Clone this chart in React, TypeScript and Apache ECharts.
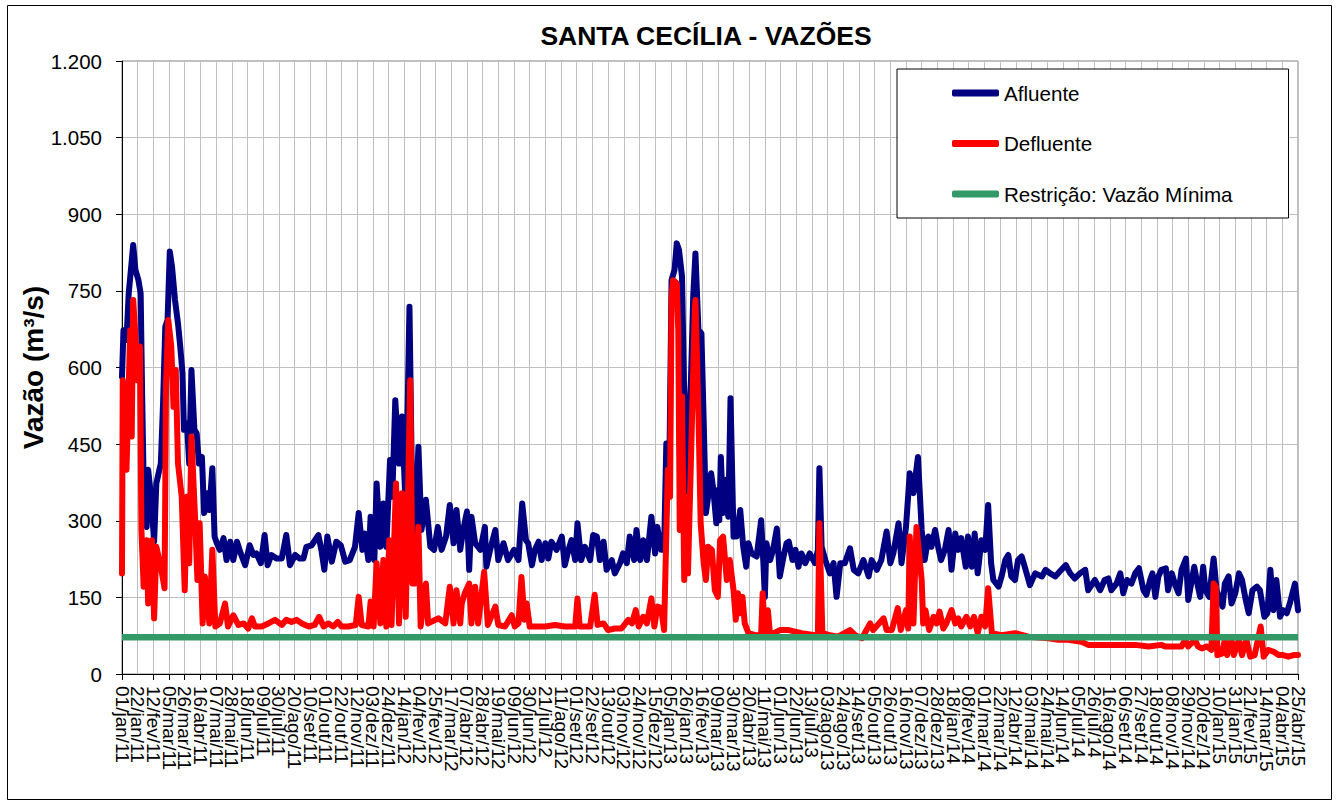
import { useEffect, useRef } from "react";
import * as echarts from "echarts";

const tickLabels: string[] = [
  "01/jan/11", "22/jan/11", "12/fev/11", "05/mar/11", "26/mar/11", "16/abr/11", "07/mai/11", "28/mai/11", "18/jun/11",
  "09/jul/11", "30/jul/11", "20/ago/11", "10/set/11", "01/out/11", "22/out/11", "12/nov/11", "03/dez/11", "24/dez/11",
  "14/jan/12", "04/fev/12", "25/fev/12", "17/mar/12", "07/abr/12", "28/abr/12", "19/mai/12", "09/jun/12", "30/jun/12",
  "21/jul/12", "11/ago/12", "01/set/12", "22/set/12", "13/out/12", "03/nov/12", "24/nov/12", "15/dez/12",
  "05/jan/13", "26/jan/13", "16/fev/13", "09/mar/13", "30/mar/13", "20/abr/13", "11/mai/13", "01/jun/13", "22/jun/13",
  "13/jul/13", "03/ago/13", "24/ago/13", "14/set/13", "05/out/13", "26/out/13", "16/nov/13", "07/dez/13", "28/dez/13",
  "18/jan/14", "08/fev/14", "01/mar/14", "22/mar/14", "12/abr/14", "03/mai/14", "24/mai/14", "14/jun/14", "05/jul/14",
  "26/jul/14", "16/ago/14", "06/set/14", "27/set/14", "18/out/14", "08/nov/14", "29/nov/14", "20/dez/14",
  "10/jan/15", "31/jan/15", "21/fev/15", "14/mar/15", "04/abr/15", "25/abr/15",
];

// [dia desde 01/jan/11, vazão m³/s]
const afluente: [number, number][] = [
  [0, 582], [2, 673], [6, 654], [9, 745], [15, 840], [18, 791], [22, 771], [25, 745], [27, 543], [30, 295], [33, 288],
  [35, 400], [39, 347], [43, 259], [46, 373], [49, 393], [52, 412], [55, 530], [58, 680], [61, 693], [64, 827], [67, 797],
  [71, 732], [75, 686], [78, 641], [81, 589], [83, 478], [87, 491], [90, 412], [93, 595], [97, 478], [100, 471], [103, 412],
  [107, 425], [110, 315], [114, 354], [117, 321], [121, 403], [124, 269], [127, 256], [131, 243], [136, 266], [140, 223],
  [145, 259], [149, 223], [154, 259], [159, 236], [165, 213], [171, 252], [176, 233], [180, 236], [186, 217], [191, 272],
  [195, 213], [200, 233], [207, 226], [214, 226], [220, 272], [225, 213], [232, 233], [238, 226], [243, 226], [247, 249],
  [254, 252], [263, 272], [267, 243], [271, 204], [275, 269], [281, 220], [287, 259], [293, 252], [299, 220], [305, 223],
  [312, 249], [317, 315], [322, 243], [325, 275], [330, 223], [333, 308], [338, 223], [341, 373], [346, 249], [350, 334],
  [354, 249], [359, 419], [362, 347], [366, 536], [371, 412], [375, 504], [379, 360], [382, 478], [385, 719], [389, 301],
  [392, 249], [397, 445], [401, 282], [407, 341], [413, 249], [418, 243], [423, 288], [428, 243], [434, 269], [439, 331],
  [444, 256], [448, 321], [453, 243], [457, 282], [462, 318], [465, 204], [468, 308], [473, 256], [480, 243], [486, 288],
  [488, 210], [493, 243], [500, 282], [504, 223], [511, 256], [517, 223], [525, 243], [531, 223], [536, 334], [541, 262],
  [544, 256], [549, 213], [553, 243], [558, 259], [562, 223], [567, 256], [571, 226], [575, 259], [582, 243], [589, 269],
  [593, 213], [598, 243], [602, 262], [607, 223], [610, 295], [615, 223], [620, 249], [627, 223], [631, 272], [636, 269],
  [640, 223], [645, 259], [649, 204], [656, 223], [660, 197], [667, 217], [671, 236], [676, 217], [680, 269], [686, 223],
  [689, 282], [694, 223], [698, 262], [703, 223], [709, 308], [714, 236], [717, 288], [722, 243], [726, 243], [729, 451],
  [733, 400], [736, 771], [740, 791], [743, 843], [746, 830], [750, 778], [753, 543], [756, 347], [758, 458], [762, 575],
  [765, 739], [768, 823], [772, 673], [776, 667], [779, 497], [782, 315], [785, 347], [789, 393], [792, 360], [796, 295],
  [798, 360], [800, 301], [802, 425], [805, 315], [809, 380], [812, 308], [815, 540], [819, 269], [823, 269], [828, 321],
  [832, 249], [836, 210], [839, 256], [843, 236], [850, 230], [856, 301], [859, 217], [861, 151], [863, 256], [868, 223],
  [872, 243], [877, 285], [881, 191], [886, 230], [890, 256], [893, 259], [898, 223], [902, 243], [906, 210], [910, 236],
  [915, 217], [921, 236], [928, 217], [932, 243], [934, 403], [937, 249], [942, 223], [948, 197], [953, 217], [957, 151],
  [962, 217], [968, 217], [975, 246], [980, 204], [986, 197], [993, 223], [1000, 191], [1004, 223], [1011, 204],
  [1017, 223], [1024, 279], [1029, 217], [1033, 236], [1040, 295], [1044, 217], [1050, 288], [1055, 393], [1060, 354],
  [1066, 425], [1071, 282], [1075, 223], [1080, 269], [1084, 249], [1089, 282], [1093, 249], [1097, 223], [1102, 243],
  [1107, 282], [1111, 204], [1116, 275], [1120, 243], [1124, 266], [1130, 210], [1133, 269], [1138, 210], [1142, 275],
  [1146, 197], [1151, 262], [1156, 243], [1160, 331], [1164, 217], [1167, 184], [1174, 171], [1178, 191], [1183, 223],
  [1187, 233], [1191, 191], [1196, 184], [1200, 223], [1205, 230], [1209, 210], [1216, 174], [1223, 197], [1232, 191],
  [1237, 204], [1243, 197], [1250, 191], [1258, 204], [1264, 213], [1270, 197], [1276, 187], [1283, 197], [1290, 204],
  [1294, 164], [1303, 184], [1310, 164], [1316, 184], [1321, 187], [1325, 164], [1332, 177], [1337, 197], [1341, 158],
  [1346, 184], [1352, 177], [1357, 197], [1362, 207], [1368, 164], [1372, 155], [1377, 184], [1380, 197], [1384, 151],
  [1388, 191], [1392, 204], [1398, 207], [1401, 164], [1406, 197], [1410, 177], [1415, 158], [1419, 204], [1425, 226],
  [1428, 145], [1432, 177], [1436, 210], [1441, 171], [1444, 151], [1448, 210], [1451, 164], [1456, 151], [1462, 226],
  [1466, 164], [1471, 145], [1474, 132], [1477, 177], [1482, 191], [1486, 138], [1491, 158], [1496, 197], [1500, 184],
  [1505, 145], [1509, 119], [1514, 164], [1520, 171], [1524, 164], [1530, 112], [1534, 119], [1538, 204], [1542, 125],
  [1546, 184], [1551, 112], [1555, 125], [1560, 119], [1564, 138], [1571, 177], [1575, 125],
];

const defluente: [number, number][] = [
  [0, 197], [1, 575], [6, 400], [11, 673], [13, 465], [15, 732], [18, 660], [21, 575], [24, 641], [26, 282], [29, 171],
  [33, 262], [35, 138], [40, 262], [43, 109], [46, 249], [52, 210], [57, 168], [59, 569], [62, 693], [66, 641], [69, 523],
  [72, 595], [75, 412], [80, 347], [84, 164], [87, 347], [90, 217], [93, 465], [98, 301], [101, 184], [104, 295], [108, 99],
  [111, 191], [117, 99], [121, 243], [125, 93], [131, 99], [138, 138], [142, 93], [149, 115], [156, 96], [163, 99],
  [169, 89], [174, 109], [178, 93], [187, 93], [196, 99], [205, 106], [214, 96], [220, 106], [227, 102], [234, 106],
  [241, 99], [250, 93], [258, 96], [264, 112], [270, 93], [276, 99], [283, 93], [289, 102], [294, 93], [303, 93], [313, 96],
  [317, 151], [321, 96], [330, 93], [333, 142], [337, 93], [341, 217], [346, 99], [350, 223], [354, 93], [358, 262],
  [361, 96], [367, 373], [371, 99], [375, 354], [380, 112], [386, 575], [389, 177], [392, 177], [397, 288], [400, 93],
  [407, 177], [410, 99], [424, 109], [433, 99], [439, 171], [444, 99], [448, 164], [453, 99], [455, 138], [459, 158],
  [465, 177], [468, 99], [473, 171], [477, 99], [485, 200], [490, 96], [500, 132], [504, 96], [513, 93], [522, 115],
  [526, 93], [531, 99], [535, 190], [539, 106], [542, 138], [546, 93], [567, 93], [580, 96], [593, 93], [607, 93],
  [610, 148], [613, 93], [627, 93], [633, 155], [637, 96], [645, 99], [651, 86], [660, 89], [669, 89], [678, 106],
  [683, 99], [688, 125], [692, 93], [698, 112], [703, 99], [709, 148], [713, 93], [717, 132], [722, 129], [726, 86],
  [731, 400], [734, 347], [736, 739], [738, 771], [743, 765], [745, 673], [747, 282], [750, 543], [753, 184], [756, 347],
  [758, 197], [763, 477], [767, 706], [768, 732], [772, 510], [775, 295], [779, 217], [782, 184], [785, 249], [790, 243],
  [794, 164], [798, 151], [801, 262], [805, 269], [810, 184], [814, 223], [819, 164], [822, 106], [825, 158], [828, 119],
  [831, 151], [834, 99], [839, 80], [848, 76], [856, 76], [858, 158], [861, 80], [865, 125], [868, 76], [881, 86],
  [893, 86], [910, 80], [928, 76], [932, 76], [934, 295], [938, 80], [948, 76], [959, 73], [975, 86], [982, 76], [991, 70],
  [1002, 99], [1006, 86], [1020, 109], [1024, 86], [1031, 86], [1039, 129], [1043, 86], [1050, 125], [1053, 89],
  [1055, 269], [1060, 99], [1064, 288], [1071, 184], [1073, 99], [1076, 125], [1081, 86], [1087, 112], [1091, 99],
  [1095, 122], [1100, 89], [1104, 99], [1111, 125], [1116, 99], [1120, 109], [1124, 93], [1131, 112], [1136, 93],
  [1141, 112], [1146, 80], [1151, 112], [1156, 93], [1160, 168], [1165, 80], [1178, 76], [1196, 80], [1214, 73],
  [1241, 70], [1254, 67], [1267, 67], [1285, 63], [1294, 57], [1308, 57], [1321, 57], [1335, 57], [1343, 57], [1357, 57],
  [1375, 54], [1392, 57], [1397, 54], [1419, 54], [1424, 67], [1428, 54], [1437, 67], [1441, 54], [1446, 50], [1453, 54],
  [1459, 47], [1462, 177], [1465, 171], [1467, 37], [1473, 40], [1477, 67], [1480, 37], [1486, 67], [1489, 37], [1496, 67],
  [1500, 37], [1506, 67], [1511, 34], [1517, 37], [1525, 93], [1529, 34], [1535, 47], [1542, 44], [1549, 37], [1555, 37],
  [1562, 34], [1569, 37], [1575, 37],
];

const restricao: [number, number][] = [
  [0, 72],
  [1575, 72],
];

// labels that ECharts' min/max overlap rule drops from the main axis; drawn by a twin axis
const twinLabelIndexes: number[] = [1, 74];

const FONT = '"Liberation Sans", Arial, Helvetica, sans-serif';

function fmtY(v: number): string {
  if (v >= 1000) {
    const t = Math.floor(v / 1000);
    const r = String(v % 1000).padStart(3, "0");
    return `${t}.${r}`;
  }
  return String(v);
}

const xLabelStyle = {
  rotate: -90,
  margin: 12,
  fontSize: 19,
  fontFamily: FONT,
  color: "#000",
  hideOverlap: false,
};

export default function App() {
  const ref = useRef<HTMLDivElement>(null);
  useEffect(() => {
    document.body.style.margin = "0";
    const chart = echarts.init(ref.current!, null, { renderer: "svg" });
    chart.setOption({
      animation: false,
      backgroundColor: "#ffffff",
      textStyle: { fontFamily: FONT, color: "#000" },
      title: {
        text: "SANTA CECÍLIA - VAZÕES",
        left: 701,
        top: 17,
        textAlign: "center",
        textStyle: { fontFamily: FONT, fontSize: 26.5, fontWeight: "bold", color: "#000" },
      },
      legend: {
        orient: "vertical",
        left: 897,
        top: 69,
        padding: [12, 56, 12, 55],
        itemGap: 26.5,
        itemWidth: 47,
        itemHeight: 7,
        icon: "roundRect",
        backgroundColor: "#fff",
        borderColor: "#000",
        borderWidth: 1,
        textStyle: { fontFamily: FONT, fontSize: 20.6, lineHeight: 24, color: "#000" },
        data: ["Afluente", "Defluente", "Restrição: Vazão Mínima"],
      },
      grid: {
        left: 122,
        top: 61,
        right: 40,
        bottom: 128,
        show: true,
        borderColor: "#808080",
        borderWidth: 1,
        backgroundColor: "transparent",
      },
      xAxis: [
        {
          type: "value",
          position: "bottom",
          min: 0,
          max: 1575,
          interval: 21,
          axisLine: { show: true, onZero: false, lineStyle: { color: "#000", width: 1 } },
          axisTick: { show: true, length: 6, lineStyle: { color: "#000" } },
          splitLine: { show: true, lineStyle: { color: "#c0c0c0", width: 1 } },
          axisLabel: {
            ...xLabelStyle,
            showMinLabel: true,
            showMaxLabel: true,
            formatter: (v: number) => tickLabels[Math.round(v / 21)] ?? "",
          },
        },
        {
          type: "value",
          position: "bottom",
          offset: 0,
          min: 0,
          max: 1575,
          interval: 21,
          axisLine: { show: false },
          axisTick: { show: false },
          splitLine: { show: false },
          axisLabel: {
            ...xLabelStyle,
            showMinLabel: false,
            showMaxLabel: false,
            formatter: (v: number) => {
              const i = Math.round(v / 21);
              return twinLabelIndexes.includes(i) ? tickLabels[i] : "";
            },
          },
        },
      ],
      yAxis: {
        type: "value",
        min: 0,
        max: 1200,
        interval: 150,
        name: "Vazão (m³/s)",
        nameLocation: "middle",
        nameGap: 75,
        nameMoveOverlap: false,
        nameTextStyle: { fontFamily: FONT, fontSize: 28, fontWeight: "bold", color: "#000" },
        axisLine: { show: true, lineStyle: { color: "#000", width: 1 } },
        axisTick: { show: true, length: 6, lineStyle: { color: "#000" } },
        splitLine: { show: true, lineStyle: { color: "#c0c0c0", width: 1 } },
        axisLabel: { margin: 20, fontSize: 20.5, fontFamily: FONT, color: "#000", formatter: fmtY },
      },
      graphic: [
        {
          type: "rect",
          shape: { x: 7.5, y: 5.5, width: 1324, height: 794 },
          style: { fill: "none", stroke: "#000", lineWidth: 1 },
          silent: true,
        },
      ],
      series: [
        {
          name: "Afluente",
          type: "line",
          xAxisIndex: 0,
          data: afluente,
          showSymbol: false,
          symbol: "none",
          color: "#000080",
          lineStyle: { width: 6, color: "#000080", cap: "round", join: "round" },
          z: 2,
        },
        {
          name: "Defluente",
          type: "line",
          xAxisIndex: 0,
          data: defluente,
          showSymbol: false,
          symbol: "none",
          color: "#ff0000",
          lineStyle: { width: 6, color: "#ff0000", cap: "round", join: "round" },
          z: 3,
        },
        {
          name: "Restrição: Vazão Mínima",
          type: "line",
          xAxisIndex: 0,
          data: restricao,
          showSymbol: false,
          symbol: "none",
          color: "#339966",
          lineStyle: { width: 6.5, color: "#339966" },
          z: 4,
        },
      ],
    });
    return () => chart.dispose();
  }, []);
  return <div ref={ref} style={{ width: 1338, height: 802 }} />;
}
